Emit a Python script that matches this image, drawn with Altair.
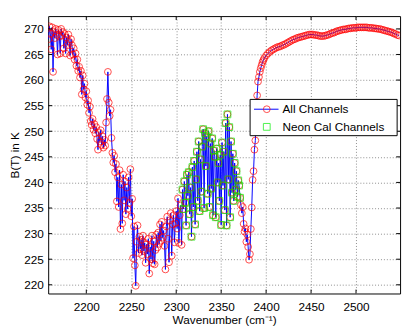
import altair as alt
import pandas as pd

# ---- data ----
# channel grid (cm^-1)
wn_left = list(range(2158, 2399))          # 1 cm-1 spacing
wn_right = list(range(2400, 2549, 2))      # 2 cm-1 spacing

bt_left = [
    268.0, 270.5, 269.0, 266.0, 270.3, 261.6, 269.5, 268.2, 270.0, 268.8,
    265.0, 269.8, 268.5, 265.2, 270.0, 268.7, 269.4, 266.2, 269.0, 265.2,
    268.3, 266.8, 268.9, 267.5, 264.8, 268.0, 266.8, 265.0, 266.2, 264.0,
    265.2, 262.8, 264.0, 261.8, 262.6, 260.5, 261.8, 257.2, 260.9, 258.2,
    259.3, 256.6, 257.8, 255.2, 256.0, 253.6, 254.8, 252.0, 251.2, 252.4,
    250.3, 251.4, 249.6, 250.8, 248.5, 246.4, 249.8, 248.0, 250.2, 247.3,
    249.0, 246.8, 248.3, 247.2, 251.7, 256.3, 261.6, 255.6, 253.0, 254.2,
    248.7, 245.8, 243.9, 245.2, 242.0, 243.6, 236.3, 241.0, 235.2, 242.4,
    230.9, 239.6, 232.0, 241.5, 236.5, 240.2, 233.8, 239.0, 234.8, 241.0,
    236.0, 242.6, 233.4, 236.8, 225.2, 231.4, 223.8, 219.8, 228.4, 231.6,
    226.2, 229.4, 227.0, 228.8, 225.8, 229.6, 226.6, 228.2, 224.3, 227.9,
    226.0, 229.0, 222.2, 227.4, 225.0, 229.6, 224.2, 228.5, 224.0, 226.8,
    229.8, 227.3, 230.2, 228.0, 231.8, 228.6, 232.3, 229.2, 230.6, 227.6,
    223.0, 231.4, 233.3, 229.0, 224.4, 232.6, 234.0, 225.7, 231.8, 233.6,
    228.3, 232.0, 234.4, 231.0, 236.9, 228.2, 233.6, 235.5, 227.8,
    # 2307 - 2371 (neon calibration channels)
    238.6, 234.8, 240.2, 236.0, 231.6, 241.5, 237.4, 242.0, 233.8, 239.0,
    229.4, 243.0, 235.2, 244.2, 231.8, 240.6, 246.0, 236.4, 248.0, 234.4,
    244.5, 238.2, 247.0, 250.4, 235.0, 249.6, 243.2, 249.0, 237.8, 250.0,
    235.2, 247.6, 238.8, 248.6, 233.6, 246.2, 245.0, 233.2, 246.6, 240.0,
    243.8, 236.4, 245.4, 231.7, 247.8, 239.4, 246.0, 234.6, 251.6, 231.6,
    253.3, 240.6, 250.8, 233.2, 248.0, 238.0, 245.6, 236.4, 243.8, 238.6,
    242.2, 237.2, 240.4, 239.4, 237.0,
    # 2372 - 2398
    235.6, 234.0, 235.2, 231.9, 230.4, 231.0, 228.4, 229.8, 227.4, 224.9,
    226.0, 230.9, 235.1, 240.5, 242.2, 246.4, 248.2, 253.0, 257.0, 259.7,
    260.6, 261.6, 262.3, 262.9, 263.5, 263.9, 264.3,
]

bt_right = [
    264.8, 265.2, 265.5, 265.8, 266.0, 266.2, 266.4, 266.5, 266.6, 266.8,
    266.9, 267.1, 267.3, 267.5, 267.7, 267.9, 268.0, 268.2, 268.3, 268.4,
    268.5, 268.6, 268.7, 268.8, 268.9, 268.9, 268.9, 268.8, 268.8, 268.7,
    268.6, 268.6, 268.6, 268.7, 268.8, 268.9, 269.1, 269.2, 269.3, 269.5,
    269.6, 269.7, 269.8, 269.9, 269.9, 270.0, 270.1, 270.1, 270.2, 270.2,
    270.2, 270.3, 270.3, 270.3, 270.3, 270.3, 270.3, 270.2, 270.2, 270.2,
    270.1, 270.1, 270.0, 270.0, 269.9, 269.8, 269.7, 269.6, 269.5, 269.4,
    269.3, 269.1, 269.0, 268.8, 268.7,
]

neon_channels = list(range(2307, 2372))

x_ticks = [2200, 2250, 2300, 2350, 2400, 2450, 2500]
y_ticks = [220, 225, 230, 235, 240, 245, 250, 255, 260, 265, 270]
series_names = ["All Channels", "Neon Cal Channels"]

x_title = "Wavenumber (cm\u207b\u00b9)"
y_title = "B(T) in K"

# ---- chart ----
W, H = 359, 283
FONT = "Liberation Sans"
MS = 48

df = pd.DataFrame({"wn": wn_left + wn_right, "bt": bt_left + bt_right})
neon_df = df[df["wn"].isin(neon_channels)]

xscale = alt.Scale(domain=[2157.6, 2549], nice=False, zero=False)
yscale = alt.Scale(domain=[218.3, 272.5], nice=False, zero=False)

x_enc = alt.X("wn:Q", scale=xscale, axis=alt.Axis(
    values=x_ticks, title=x_title, format="d", grid=True, ticks=False,
    domain=False, labelPadding=8, titlePadding=3))
y_enc = alt.Y("bt:Q", scale=yscale, axis=alt.Axis(
    values=y_ticks, title=y_title, grid=True, ticks=False, domain=False,
    labelPadding=5, titlePadding=2))

base = alt.Chart(df).encode(x=x_enc, y=y_enc)
line = base.mark_line(color="#0000ff", strokeWidth=1, clip=True)
circles = base.mark_point(shape="circle", filled=False, color="#ff0000",
                          size=MS, strokeWidth=1, clip=True)
squares = alt.Chart(neon_df).mark_point(
    shape="square", filled=False, color="#00ee00", size=MS, strokeWidth=1,
    clip=True).encode(x=x_enc, y=y_enc)

# inward tick marks on all four sides
xt = pd.DataFrame({"wn": x_ticks})
yt = pd.DataFrame({"bt": y_ticks})
tick_b = alt.Chart(xt).mark_rule(color="black").encode(x=x_enc, y=alt.value(H), y2=alt.value(H - 4))
tick_t = alt.Chart(xt).mark_rule(color="black").encode(x=x_enc, y=alt.value(0), y2=alt.value(4))
tick_l = alt.Chart(yt).mark_rule(color="black").encode(y=y_enc, x=alt.value(0), x2=alt.value(4))
tick_r = alt.Chart(yt).mark_rule(color="black").encode(y=y_enc, x=alt.value(W), x2=alt.value(W - 4))

# legend box
one = pd.DataFrame({"k": [0]})
lx0, lx1, ly0, ly1 = 206, 356, 85, 122
leg_box = alt.Chart(one).mark_rect(fill="white", stroke="black", strokeWidth=1).encode(
    x=alt.value(lx0), x2=alt.value(lx1), y=alt.value(ly0), y2=alt.value(ly1))
leg_line = alt.Chart(one).mark_rule(color="#0000ff", strokeWidth=1).encode(
    x=alt.value(210), x2=alt.value(235), y=alt.value(95))
leg_circ = alt.Chart(one).mark_point(shape="circle", filled=False, color="#ff0000",
                                     size=MS, strokeWidth=1).encode(
    x=alt.value(223), y=alt.value(95))
leg_sq = alt.Chart(one).mark_point(shape="square", filled=False, color="#00ee00",
                                   size=MS, strokeWidth=1).encode(
    x=alt.value(223), y=alt.value(113))
leg_t1 = alt.Chart(pd.DataFrame({"label": [series_names[0]]})).mark_text(
    align="left", baseline="middle", font=FONT, fontSize=12, color="black").encode(
    x=alt.value(239), y=alt.value(95), text="label:N")
leg_t2 = alt.Chart(pd.DataFrame({"label": [series_names[1]]})).mark_text(
    align="left", baseline="middle", font=FONT, fontSize=12, color="black").encode(
    x=alt.value(239), y=alt.value(113), text="label:N")

chart = alt.layer(
    line, circles, squares, tick_b, tick_t, tick_l, tick_r,
    leg_box, leg_line, leg_circ, leg_sq, leg_t1, leg_t2
).properties(
    width=W, height=H,
    padding={"left": 41, "top": 5, "right": 4, "bottom": 35},
    autosize=alt.AutoSizeParams(type="none"),
    background="white",
).configure_view(
    stroke="black", strokeWidth=1
).configure_axis(
    labelFont=FONT, titleFont=FONT, labelFontSize=12, titleFontSize=12,
    labelColor="black", titleColor="black", titleFontWeight="normal",
    gridColor="#8c8c8c", gridDash=[1, 2], gridWidth=1, gridOpacity=1,
)

chart.save("out.html", embed_options={"renderer": "svg", "actions": False})
